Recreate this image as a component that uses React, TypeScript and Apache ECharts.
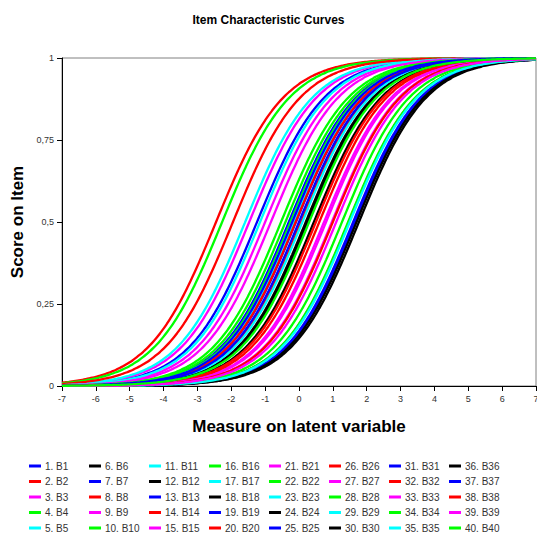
import React, { useEffect, useRef } from "react";
import * as echarts from "echarts";

const itemNames = Array.from({ length: 40 }, (_, i) => `${i + 1}. B${i + 1}`);
const colorCycle = ["#0000ff", "#ff0000", "#ff00ff", "#00ff00", "#00ffff", "#000000"];
// Estimated item difficulties (logit location where P = 0.5)
const difficulties = [
  -1.24, -2.45, -1.47, -2.27, -1.59, 0.2, -0.3, -1.95, -1.0, -0.53,
  -1.15, 0.44, -0.09, 0.06, -0.83, -0.25, -0.2, 1.47, 1.65, 0.5,
  0.74, 1.27, -0.15, 1.77, 1.6, -0.1, 0.97, -0.4, 0.1, 1.7,
  -0.2, 0.6, 0.8, 1.45, 1.5, 0.25, 0.0, 1.0, 1.1, 0.3,
];
const xTicks = [-7, 7];
const yTickLabels = ["0", "0,25", "0,5", "0,75", "1"];

const thetaGrid: number[] = [];
for (let k = 0; k <= 140; k++) thetaGrid.push(+(-7 + k * 0.1).toFixed(2));

export default function App() {
  const ref = useRef<HTMLDivElement>(null);
  useEffect(() => {
    if (!ref.current) return;
    document.body.style.margin = "0";
    document.body.style.overflow = "hidden";
    const chart = echarts.init(ref.current, undefined, { renderer: "svg" });
    const font = "'Liberation Sans', Arial, sans-serif";
    const series = itemNames.map((name, i) => ({
      name,
      type: "line",
      showSymbol: false,
      symbol: "none",
      smooth: true,
      lineStyle: { width: 2.3, color: colorCycle[i % 6] },
      itemStyle: { color: colorCycle[i % 6] },
      data: thetaGrid.map((t) => [t, 1 / (1 + Math.exp(-(t - difficulties[i])))]),
    }));
    const colX = [29, 89, 149, 209, 269, 329, 389, 449];
    const legends = colX.map((x, c) => ({
      orient: "vertical",
      left: x,
      top: 461,
      height: 83,
      padding: 0,
      itemGap: 5.5,
      itemWidth: 12,
      itemHeight: 3,
      icon: "rect",
      textStyle: { fontSize: 10, color: "#333", fontFamily: font, padding: [0, 0, 0, -1] },
      data: itemNames.slice(c * 5, c * 5 + 5),
      selectedMode: false,
    }));
    chart.setOption({
      animation: false,
      title: {
        text: "Item Characteristic Curves",
        left: "center",
        top: 9,
        textStyle: { fontSize: 12, fontWeight: "bold", color: "#000", fontFamily: font },
      },
      legend: legends,
      grid: {
        left: 62,
        right: 1,
        top: 58,
        bottom: 158,
        show: true,
        borderColor: "#808080",
        borderWidth: 1,
        outerBoundsMode: "none",
      },
      xAxis: {
        type: "value",
        min: xTicks[0],
        max: xTicks[1],
        interval: 1,
        name: "Measure on latent variable",
        nameLocation: "middle",
        nameGap: 32,
        nameTextStyle: { fontSize: 17, fontWeight: "bold", color: "#000", fontFamily: font },
        axisLine: { onZero: false, lineStyle: { color: "#000", width: 1 } },
        axisTick: { length: 5, lineStyle: { color: "#000" } },
        axisLabel: {
          fontSize: 9,
          color: "#333",
          fontFamily: font,
          margin: 8,
          showMaxLabel: true,
          showMinLabel: true,
          hideOverlap: false,
        },
        splitLine: { show: false },
      },
      yAxis: {
        type: "value",
        min: 0,
        max: 1,
        interval: 0.25,
        name: "Score on Item",
        nameLocation: "middle",
        nameGap: 36,
        nameTextStyle: { fontSize: 17, fontWeight: "bold", color: "#000", fontFamily: font },
        axisLine: { show: true, onZero: false, lineStyle: { color: "#000", width: 1 } },
        axisTick: { show: true, length: 5, lineStyle: { color: "#000" } },
        axisLabel: {
          fontSize: 9,
          color: "#333",
          fontFamily: font,
          margin: 8,
          formatter: (v: number) => yTickLabels[Math.round(v * 4)] ?? String(v),
        },
        splitLine: { show: false },
      },
      series,
    });
    return () => chart.dispose();
  }, []);
  return <div ref={ref} style={{ width: 537, height: 544 }} />;
}
